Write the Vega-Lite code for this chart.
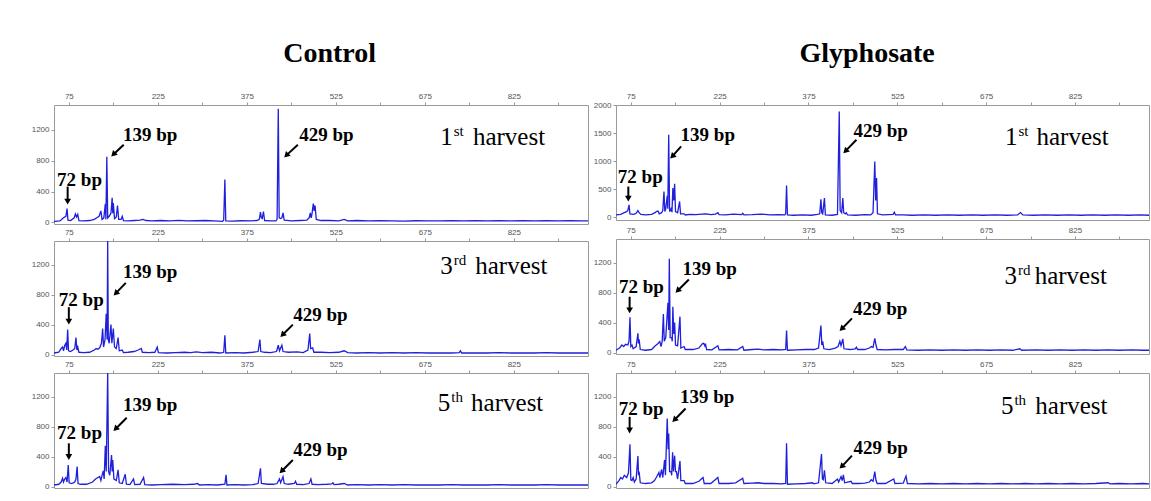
{
"$schema": "https://vega.github.io/schema/vega-lite/v6.json",
"padding": {"left": 30, "top": 39, "right": 0, "bottom": 0},
"background": "white",
"config": {
  "view": {"stroke": "#9a9a9a", "strokeWidth": 1},
  "axis": {"labelFont": "Liberation Sans", "labelFontSize": 8, "labelColor": "#555", "tickColor": "#999", "tickSize": 3, "domain": false, "grid": false, "labelPadding": 2},
  "title": {"font": "Liberation Serif", "fontSize": 28, "fontWeight": "bold", "color": "black", "anchor": "middle"}
},
"datasets": {
"c1": [{"bp":50,"rfu":15},{"bp":60,"rfu":20},{"bp":66,"rfu":60},{"bp":70,"rfu":80},{"bp":72,"rfu":180},{"bp":73.5,"rfu":30},{"bp":78,"rfu":25},{"bp":84,"rfu":60},{"bp":86,"rfu":110},{"bp":88,"rfu":70},{"bp":90,"rfu":105},{"bp":92,"rfu":25},{"bp":100,"rfu":20},{"bp":110,"rfu":25},{"bp":118,"rfu":40},{"bp":122,"rfu":60},{"bp":126,"rfu":80},{"bp":129,"rfu":150},{"bp":131,"rfu":40},{"bp":134,"rfu":60},{"bp":136.5,"rfu":240},{"bp":137.5,"rfu":40},{"bp":139,"rfu":850},{"bp":140.5,"rfu":60},{"bp":143,"rfu":80},{"bp":146,"rfu":120},{"bp":148,"rfu":320},{"bp":149,"rfu":120},{"bp":150,"rfu":250},{"bp":152,"rfu":50},{"bp":155,"rfu":70},{"bp":157,"rfu":220},{"bp":159,"rfu":40},{"bp":163,"rfu":40},{"bp":165,"rfu":80},{"bp":167,"rfu":25},{"bp":175,"rfu":20},{"bp":185,"rfu":25},{"bp":195,"rfu":30},{"bp":200,"rfu":40},{"bp":205,"rfu":25},{"bp":215,"rfu":20},{"bp":230,"rfu":25},{"bp":245,"rfu":20},{"bp":260,"rfu":28},{"bp":275,"rfu":20},{"bp":290,"rfu":22},{"bp":305,"rfu":25},{"bp":320,"rfu":20},{"bp":334,"rfu":15},{"bp":336,"rfu":30},{"bp":338,"rfu":555},{"bp":339.5,"rfu":20},{"bp":350,"rfu":18},{"bp":365,"rfu":22},{"bp":380,"rfu":20},{"bp":392,"rfu":25},{"bp":396,"rfu":40},{"bp":398,"rfu":135},{"bp":399.5,"rfu":60},{"bp":401,"rfu":50},{"bp":403,"rfu":140},{"bp":405,"rfu":25},{"bp":415,"rfu":20},{"bp":424,"rfu":20},{"bp":426,"rfu":40},{"bp":428,"rfu":1470},{"bp":429.5,"rfu":60},{"bp":432,"rfu":50},{"bp":434,"rfu":60},{"bp":436,"rfu":125},{"bp":438,"rfu":30},{"bp":450,"rfu":20},{"bp":465,"rfu":25},{"bp":476,"rfu":30},{"bp":480,"rfu":60},{"bp":482,"rfu":125},{"bp":483.5,"rfu":60},{"bp":485,"rfu":120},{"bp":487,"rfu":245},{"bp":488.5,"rfu":150},{"bp":490,"rfu":220},{"bp":492,"rfu":40},{"bp":500,"rfu":25},{"bp":515,"rfu":25},{"bp":530,"rfu":20},{"bp":539,"rfu":40},{"bp":545,"rfu":20},{"bp":560,"rfu":25},{"bp":580,"rfu":20},{"bp":600,"rfu":22},{"bp":620,"rfu":20},{"bp":640,"rfu":18},{"bp":660,"rfu":22},{"bp":680,"rfu":20},{"bp":700,"rfu":20},{"bp":720,"rfu":22},{"bp":740,"rfu":20},{"bp":760,"rfu":22},{"bp":780,"rfu":20},{"bp":800,"rfu":24},{"bp":820,"rfu":20},{"bp":840,"rfu":22},{"bp":860,"rfu":20},{"bp":880,"rfu":22},{"bp":900,"rfu":20},{"bp":920,"rfu":22},{"bp":940,"rfu":20},{"bp":950,"rfu":20}],
"c3": [{"bp":50,"rfu":20},{"bp":58,"rfu":30},{"bp":62,"rfu":80},{"bp":64.5,"rfu":100},{"bp":66,"rfu":50},{"bp":68,"rfu":120},{"bp":70,"rfu":150},{"bp":71.5,"rfu":60},{"bp":73,"rfu":333},{"bp":74.5,"rfu":50},{"bp":78,"rfu":40},{"bp":82,"rfu":60},{"bp":85,"rfu":80},{"bp":87,"rfu":227},{"bp":88.5,"rfu":60},{"bp":90,"rfu":100},{"bp":92,"rfu":30},{"bp":100,"rfu":25},{"bp":110,"rfu":30},{"bp":118,"rfu":60},{"bp":121,"rfu":80},{"bp":124,"rfu":70},{"bp":127,"rfu":90},{"bp":130,"rfu":150},{"bp":132,"rfu":347},{"bp":133.5,"rfu":100},{"bp":136,"rfu":200},{"bp":138,"rfu":547},{"bp":139.5,"rfu":200},{"bp":140.5,"rfu":1520},{"bp":141.5,"rfu":200},{"bp":143,"rfu":150},{"bp":146,"rfu":400},{"bp":147.5,"rfu":150},{"bp":150,"rfu":347},{"bp":152,"rfu":100},{"bp":155,"rfu":80},{"bp":158,"rfu":227},{"bp":160,"rfu":50},{"bp":165,"rfu":60},{"bp":167,"rfu":25},{"bp":175,"rfu":30},{"bp":185,"rfu":40},{"bp":192,"rfu":60},{"bp":197,"rfu":80},{"bp":199,"rfu":30},{"bp":210,"rfu":25},{"bp":220,"rfu":30},{"bp":224,"rfu":100},{"bp":226,"rfu":25},{"bp":240,"rfu":20},{"bp":255,"rfu":25},{"bp":270,"rfu":30},{"bp":280,"rfu":25},{"bp":290,"rfu":35},{"bp":300,"rfu":25},{"bp":315,"rfu":30},{"bp":330,"rfu":20},{"bp":336,"rfu":30},{"bp":338,"rfu":257},{"bp":339.5,"rfu":20},{"bp":355,"rfu":25},{"bp":370,"rfu":20},{"bp":385,"rfu":30},{"bp":394,"rfu":40},{"bp":397,"rfu":200},{"bp":398.5,"rfu":40},{"bp":405,"rfu":30},{"bp":415,"rfu":25},{"bp":425,"rfu":40},{"bp":428,"rfu":124},{"bp":430,"rfu":50},{"bp":434,"rfu":124},{"bp":436,"rfu":40},{"bp":445,"rfu":30},{"bp":460,"rfu":35},{"bp":470,"rfu":25},{"bp":478,"rfu":60},{"bp":481,"rfu":280},{"bp":482.5,"rfu":80},{"bp":486,"rfu":90},{"bp":488,"rfu":30},{"bp":500,"rfu":30},{"bp":515,"rfu":25},{"bp":530,"rfu":30},{"bp":539,"rfu":50},{"bp":545,"rfu":25},{"bp":560,"rfu":20},{"bp":580,"rfu":25},{"bp":600,"rfu":20},{"bp":620,"rfu":25},{"bp":640,"rfu":20},{"bp":660,"rfu":25},{"bp":680,"rfu":20},{"bp":700,"rfu":22},{"bp":720,"rfu":20},{"bp":733,"rfu":25},{"bp":735,"rfu":50},{"bp":737,"rfu":20},{"bp":760,"rfu":22},{"bp":780,"rfu":20},{"bp":800,"rfu":25},{"bp":820,"rfu":20},{"bp":840,"rfu":22},{"bp":860,"rfu":20},{"bp":880,"rfu":25},{"bp":900,"rfu":20},{"bp":920,"rfu":22},{"bp":940,"rfu":20},{"bp":950,"rfu":20}],
"c5": [{"bp":50,"rfu":20},{"bp":58,"rfu":30},{"bp":62,"rfu":60},{"bp":64.5,"rfu":111},{"bp":66,"rfu":60},{"bp":68,"rfu":100},{"bp":70,"rfu":120},{"bp":72,"rfu":60},{"bp":74,"rfu":289},{"bp":75.5,"rfu":50},{"bp":80,"rfu":40},{"bp":85,"rfu":60},{"bp":87,"rfu":100},{"bp":89,"rfu":267},{"bp":90.5,"rfu":40},{"bp":95,"rfu":30},{"bp":105,"rfu":30},{"bp":115,"rfu":60},{"bp":120,"rfu":100},{"bp":124,"rfu":120},{"bp":127,"rfu":133},{"bp":129,"rfu":80},{"bp":131,"rfu":150},{"bp":133,"rfu":209},{"bp":134.5,"rfu":100},{"bp":136.5,"rfu":547},{"bp":138,"rfu":200},{"bp":140.5,"rfu":1520},{"bp":142,"rfu":200},{"bp":144,"rfu":150},{"bp":147,"rfu":422},{"bp":148,"rfu":200},{"bp":149,"rfu":356},{"bp":151,"rfu":100},{"bp":155,"rfu":80},{"bp":158,"rfu":222},{"bp":160,"rfu":50},{"bp":165,"rfu":40},{"bp":170,"rfu":164},{"bp":172,"rfu":30},{"bp":178,"rfu":25},{"bp":184,"rfu":102},{"bp":186,"rfu":25},{"bp":195,"rfu":30},{"bp":201,"rfu":120},{"bp":203,"rfu":25},{"bp":215,"rfu":20},{"bp":230,"rfu":25},{"bp":250,"rfu":30},{"bp":270,"rfu":25},{"bp":285,"rfu":30},{"bp":292,"rfu":40},{"bp":295,"rfu":20},{"bp":310,"rfu":25},{"bp":325,"rfu":20},{"bp":338,"rfu":30},{"bp":340,"rfu":156},{"bp":341.5,"rfu":20},{"bp":355,"rfu":25},{"bp":370,"rfu":20},{"bp":385,"rfu":25},{"bp":394,"rfu":40},{"bp":398,"rfu":244},{"bp":399.5,"rfu":40},{"bp":410,"rfu":30},{"bp":420,"rfu":30},{"bp":426,"rfu":40},{"bp":430,"rfu":102},{"bp":432,"rfu":50},{"bp":436,"rfu":133},{"bp":438,"rfu":40},{"bp":445,"rfu":30},{"bp":455,"rfu":40},{"bp":457,"rfu":70},{"bp":459,"rfu":30},{"bp":470,"rfu":25},{"bp":480,"rfu":40},{"bp":483,"rfu":102},{"bp":485,"rfu":30},{"bp":495,"rfu":25},{"bp":510,"rfu":30},{"bp":518,"rfu":35},{"bp":520,"rfu":50},{"bp":522,"rfu":25},{"bp":530,"rfu":30},{"bp":539,"rfu":40},{"bp":545,"rfu":20},{"bp":560,"rfu":25},{"bp":580,"rfu":20},{"bp":600,"rfu":25},{"bp":620,"rfu":20},{"bp":640,"rfu":25},{"bp":660,"rfu":20},{"bp":680,"rfu":22},{"bp":700,"rfu":20},{"bp":720,"rfu":25},{"bp":740,"rfu":20},{"bp":760,"rfu":22},{"bp":780,"rfu":20},{"bp":800,"rfu":25},{"bp":820,"rfu":20},{"bp":840,"rfu":22},{"bp":860,"rfu":20},{"bp":880,"rfu":25},{"bp":900,"rfu":20},{"bp":920,"rfu":22},{"bp":940,"rfu":20},{"bp":950,"rfu":20}],
"g1": [{"bp":50,"rfu":40},{"bp":58,"rfu":50},{"bp":64,"rfu":80},{"bp":68,"rfu":100},{"bp":70,"rfu":120},{"bp":72,"rfu":220},{"bp":73.5,"rfu":60},{"bp":80,"rfu":50},{"bp":84,"rfu":70},{"bp":87,"rfu":118},{"bp":89,"rfu":80},{"bp":92,"rfu":50},{"bp":100,"rfu":40},{"bp":110,"rfu":50},{"bp":116,"rfu":80},{"bp":118,"rfu":100},{"bp":121,"rfu":110},{"bp":123,"rfu":60},{"bp":127,"rfu":80},{"bp":129,"rfu":120},{"bp":131,"rfu":457},{"bp":132.5,"rfu":100},{"bp":134,"rfu":150},{"bp":136.5,"rfu":380},{"bp":137.5,"rfu":150},{"bp":139,"rfu":1470},{"bp":140.5,"rfu":100},{"bp":143,"rfu":150},{"bp":144.5,"rfu":90},{"bp":146,"rfu":518},{"bp":147.5,"rfu":300},{"bp":149,"rfu":595},{"bp":150.5,"rfu":100},{"bp":154,"rfu":80},{"bp":157.4,"rfu":280},{"bp":159,"rfu":60},{"bp":165,"rfu":60},{"bp":167,"rfu":40},{"bp":175,"rfu":50},{"bp":185,"rfu":45},{"bp":195,"rfu":55},{"bp":202,"rfu":60},{"bp":210,"rfu":45},{"bp":218,"rfu":55},{"bp":222,"rfu":80},{"bp":224,"rfu":45},{"bp":235,"rfu":40},{"bp":248,"rfu":55},{"bp":262,"rfu":45},{"bp":264,"rfu":70},{"bp":266,"rfu":40},{"bp":280,"rfu":45},{"bp":295,"rfu":55},{"bp":310,"rfu":40},{"bp":325,"rfu":45},{"bp":335,"rfu":40},{"bp":336.5,"rfu":60},{"bp":338,"rfu":565},{"bp":339.5,"rfu":40},{"bp":350,"rfu":35},{"bp":365,"rfu":40},{"bp":380,"rfu":35},{"bp":390,"rfu":50},{"bp":394,"rfu":60},{"bp":396,"rfu":321},{"bp":397.5,"rfu":80},{"bp":399,"rfu":60},{"bp":402,"rfu":340},{"bp":403.5,"rfu":40},{"bp":415,"rfu":35},{"bp":424,"rfu":50},{"bp":427,"rfu":1886},{"bp":428.5,"rfu":120},{"bp":431,"rfu":80},{"bp":433,"rfu":340},{"bp":434.5,"rfu":80},{"bp":437,"rfu":60},{"bp":439,"rfu":80},{"bp":441,"rfu":40},{"bp":455,"rfu":35},{"bp":470,"rfu":45},{"bp":480,"rfu":40},{"bp":484,"rfu":80},{"bp":487,"rfu":993},{"bp":488.5,"rfu":300},{"bp":490,"rfu":697},{"bp":491.5,"rfu":60},{"bp":500,"rfu":40},{"bp":510,"rfu":45},{"bp":518,"rfu":50},{"bp":520,"rfu":90},{"bp":522,"rfu":40},{"bp":535,"rfu":40},{"bp":550,"rfu":35},{"bp":570,"rfu":40},{"bp":590,"rfu":35},{"bp":610,"rfu":40},{"bp":630,"rfu":35},{"bp":650,"rfu":40},{"bp":670,"rfu":35},{"bp":690,"rfu":40},{"bp":710,"rfu":35},{"bp":728,"rfu":40},{"bp":733,"rfu":82},{"bp":737,"rfu":40},{"bp":755,"rfu":35},{"bp":775,"rfu":40},{"bp":795,"rfu":35},{"bp":815,"rfu":40},{"bp":835,"rfu":35},{"bp":855,"rfu":40},{"bp":875,"rfu":35},{"bp":895,"rfu":40},{"bp":915,"rfu":35},{"bp":935,"rfu":40},{"bp":950,"rfu":35}],
"g3": [{"bp":50,"rfu":30},{"bp":56,"rfu":60},{"bp":60,"rfu":100},{"bp":63,"rfu":80},{"bp":66,"rfu":110},{"bp":70,"rfu":100},{"bp":72,"rfu":150},{"bp":73.6,"rfu":471},{"bp":75,"rfu":80},{"bp":77,"rfu":100},{"bp":79,"rfu":50},{"bp":84,"rfu":80},{"bp":87,"rfu":257},{"bp":88,"rfu":120},{"bp":89,"rfu":178},{"bp":91,"rfu":40},{"bp":100,"rfu":30},{"bp":110,"rfu":40},{"bp":115,"rfu":80},{"bp":118,"rfu":100},{"bp":121,"rfu":120},{"bp":124,"rfu":147},{"bp":126,"rfu":80},{"bp":128,"rfu":150},{"bp":130,"rfu":515},{"bp":131.5,"rfu":150},{"bp":134,"rfu":200},{"bp":137.7,"rfu":667},{"bp":139,"rfu":300},{"bp":140,"rfu":1257},{"bp":141.5,"rfu":200},{"bp":144,"rfu":200},{"bp":145,"rfu":150},{"bp":146,"rfu":613},{"bp":147.5,"rfu":250},{"bp":149,"rfu":400},{"bp":150.5,"rfu":100},{"bp":154,"rfu":90},{"bp":158,"rfu":480},{"bp":159.5,"rfu":60},{"bp":165,"rfu":80},{"bp":167,"rfu":40},{"bp":180,"rfu":40},{"bp":190,"rfu":60},{"bp":194,"rfu":100},{"bp":196,"rfu":120},{"bp":198,"rfu":124},{"bp":200,"rfu":90},{"bp":201,"rfu":120},{"bp":203,"rfu":40},{"bp":212,"rfu":35},{"bp":222,"rfu":90},{"bp":224,"rfu":35},{"bp":240,"rfu":40},{"bp":255,"rfu":35},{"bp":264,"rfu":80},{"bp":266,"rfu":30},{"bp":280,"rfu":40},{"bp":290,"rfu":45},{"bp":300,"rfu":35},{"bp":315,"rfu":40},{"bp":330,"rfu":35},{"bp":336.5,"rfu":40},{"bp":338,"rfu":293},{"bp":339.5,"rfu":30},{"bp":355,"rfu":35},{"bp":370,"rfu":40},{"bp":385,"rfu":40},{"bp":392,"rfu":60},{"bp":396,"rfu":360},{"bp":397.5,"rfu":100},{"bp":399,"rfu":150},{"bp":401,"rfu":50},{"bp":410,"rfu":40},{"bp":420,"rfu":60},{"bp":425,"rfu":80},{"bp":428,"rfu":150},{"bp":430,"rfu":90},{"bp":433,"rfu":182},{"bp":435,"rfu":50},{"bp":445,"rfu":40},{"bp":454,"rfu":50},{"bp":456,"rfu":70},{"bp":458,"rfu":40},{"bp":470,"rfu":40},{"bp":478,"rfu":60},{"bp":481,"rfu":80},{"bp":484,"rfu":70},{"bp":487,"rfu":190},{"bp":489,"rfu":100},{"bp":491,"rfu":40},{"bp":505,"rfu":35},{"bp":520,"rfu":40},{"bp":535,"rfu":40},{"bp":538.6,"rfu":80},{"bp":541,"rfu":35},{"bp":560,"rfu":30},{"bp":580,"rfu":35},{"bp":600,"rfu":30},{"bp":620,"rfu":35},{"bp":640,"rfu":30},{"bp":660,"rfu":35},{"bp":680,"rfu":30},{"bp":700,"rfu":35},{"bp":720,"rfu":30},{"bp":732,"rfu":50},{"bp":735,"rfu":30},{"bp":760,"rfu":35},{"bp":780,"rfu":30},{"bp":800,"rfu":35},{"bp":820,"rfu":30},{"bp":840,"rfu":35},{"bp":860,"rfu":30},{"bp":880,"rfu":35},{"bp":900,"rfu":30},{"bp":920,"rfu":35},{"bp":940,"rfu":30},{"bp":950,"rfu":30}],
"g5": [{"bp":50,"rfu":30},{"bp":55,"rfu":80},{"bp":58,"rfu":120},{"bp":61,"rfu":100},{"bp":64,"rfu":150},{"bp":68,"rfu":120},{"bp":71,"rfu":180},{"bp":73.6,"rfu":564},{"bp":75,"rfu":90},{"bp":77,"rfu":80},{"bp":79,"rfu":120},{"bp":81,"rfu":60},{"bp":84,"rfu":100},{"bp":87,"rfu":409},{"bp":88,"rfu":150},{"bp":89,"rfu":200},{"bp":91,"rfu":50},{"bp":100,"rfu":40},{"bp":110,"rfu":50},{"bp":115,"rfu":80},{"bp":118,"rfu":120},{"bp":120,"rfu":150},{"bp":122.5,"rfu":187},{"bp":124,"rfu":120},{"bp":127,"rfu":230},{"bp":129,"rfu":120},{"bp":132,"rfu":356},{"bp":133.5,"rfu":150},{"bp":136.5,"rfu":911},{"bp":138,"rfu":500},{"bp":139,"rfu":711},{"bp":140.5,"rfu":200},{"bp":143,"rfu":200},{"bp":144,"rfu":150},{"bp":145.6,"rfu":458},{"bp":147,"rfu":200},{"bp":149,"rfu":413},{"bp":150.5,"rfu":200},{"bp":152,"rfu":200},{"bp":154,"rfu":100},{"bp":158,"rfu":342},{"bp":159.5,"rfu":80},{"bp":165,"rfu":80},{"bp":167,"rfu":40},{"bp":180,"rfu":40},{"bp":190,"rfu":70},{"bp":197,"rfu":120},{"bp":199,"rfu":40},{"bp":210,"rfu":40},{"bp":222,"rfu":120},{"bp":224,"rfu":40},{"bp":240,"rfu":40},{"bp":252,"rfu":50},{"bp":264,"rfu":110},{"bp":266,"rfu":40},{"bp":280,"rfu":45},{"bp":290,"rfu":50},{"bp":300,"rfu":40},{"bp":315,"rfu":40},{"bp":330,"rfu":35},{"bp":336.5,"rfu":40},{"bp":338,"rfu":578},{"bp":339.5,"rfu":30},{"bp":355,"rfu":35},{"bp":370,"rfu":40},{"bp":382,"rfu":50},{"bp":384,"rfu":35},{"bp":392,"rfu":50},{"bp":397,"rfu":436},{"bp":398.5,"rfu":100},{"bp":400,"rfu":90},{"bp":402,"rfu":218},{"bp":404,"rfu":50},{"bp":415,"rfu":40},{"bp":424,"rfu":100},{"bp":426,"rfu":60},{"bp":430,"rfu":133},{"bp":432,"rfu":80},{"bp":434,"rfu":155},{"bp":436,"rfu":50},{"bp":447,"rfu":70},{"bp":449,"rfu":40},{"bp":460,"rfu":40},{"bp":470,"rfu":45},{"bp":478,"rfu":60},{"bp":481,"rfu":90},{"bp":484,"rfu":70},{"bp":487,"rfu":200},{"bp":489,"rfu":80},{"bp":491,"rfu":40},{"bp":505,"rfu":40},{"bp":519,"rfu":100},{"bp":521,"rfu":40},{"bp":535,"rfu":45},{"bp":539.7,"rfu":140},{"bp":542,"rfu":40},{"bp":560,"rfu":35},{"bp":580,"rfu":40},{"bp":600,"rfu":35},{"bp":620,"rfu":40},{"bp":640,"rfu":35},{"bp":660,"rfu":40},{"bp":680,"rfu":35},{"bp":700,"rfu":40},{"bp":720,"rfu":35},{"bp":740,"rfu":40},{"bp":760,"rfu":35},{"bp":780,"rfu":40},{"bp":800,"rfu":35},{"bp":820,"rfu":40},{"bp":840,"rfu":35},{"bp":860,"rfu":40},{"bp":881,"rfu":50},{"bp":884,"rfu":35},{"bp":900,"rfu":40},{"bp":920,"rfu":35},{"bp":940,"rfu":40},{"bp":950,"rfu":35}],
"arrows": [
{"panel":"c1","dir":"down","bp":73,"rfu":464,"bp2":73,"rfu2":270},
{"panel":"c1","dir":"diag","bp":167.5,"rfu":1006,"bp2":150,"rfu2":880},
{"panel":"c1","dir":"diag","bp":461,"rfu":1006,"bp2":441.5,"rfu2":868},
{"panel":"c3","dir":"down","bp":75,"rfu":634,"bp2":75,"rfu2":440},
{"panel":"c3","dir":"diag","bp":171,"rfu":960,"bp2":154,"rfu2":818},
{"panel":"c3","dir":"diag","bp":452.5,"rfu":400,"bp2":435,"rfu2":262},
{"panel":"c5","dir":"down","bp":75,"rfu":578,"bp2":75,"rfu2":395},
{"panel":"c5","dir":"diag","bp":172.5,"rfu":920,"bp2":153.7,"rfu2":770},
{"panel":"c5","dir":"diag","bp":452.5,"rfu":356,"bp2":433.6,"rfu2":205},
{"panel":"g1","dir":"down","bp":70.8,"rfu":546,"bp2":70.8,"rfu2":330},
{"panel":"g1","dir":"diag","bp":160,"rfu":1261,"bp2":145,"rfu2":1083},
{"panel":"g1","dir":"diag","bp":456,"rfu":1380,"bp2":437.4,"rfu2":1178},
{"panel":"g3","dir":"down","bp":73,"rfu":747,"bp2":73,"rfu2":565},
{"panel":"g3","dir":"diag","bp":173,"rfu":977,"bp2":154,"rfu2":827},
{"panel":"g3","dir":"diag","bp":448.5,"rfu":457,"bp2":431,"rfu2":315},
{"panel":"g5","dir":"down","bp":73,"rfu":933,"bp2":73,"rfu2":750},
{"panel":"g5","dir":"diag","bp":167.5,"rfu":1044,"bp2":148.6,"rfu2":890},
{"panel":"g5","dir":"diag","bp":448.5,"rfu":413,"bp2":431,"rfu2":267}],
"labels": [
{"panel":"c1","bp":93,"rfu":555,"text":"72 bp"},{"panel":"c1","bp":212,"rfu":1135,"text":"139 bp"},{"panel":"c1","bp":509,"rfu":1135,"text":"429 bp"},
{"panel":"c3","bp":96,"rfu":724,"text":"72 bp"},{"panel":"c3","bp":212,"rfu":1101,"text":"139 bp"},{"panel":"c3","bp":499,"rfu":533,"text":"429 bp"},
{"panel":"c5","bp":93,"rfu":711,"text":"72 bp"},{"panel":"c5","bp":212,"rfu":1089,"text":"139 bp"},{"panel":"c5","bp":499,"rfu":489,"text":"429 bp"},
{"panel":"g1","bp":91,"rfu":714,"text":"72 bp"},{"panel":"g1","bp":205,"rfu":1470,"text":"139 bp"},{"panel":"g1","bp":497,"rfu":1541,"text":"429 bp"},
{"panel":"g3","bp":93,"rfu":871,"text":"72 bp"},{"panel":"g3","bp":208,"rfu":1124,"text":"139 bp"},{"panel":"g3","bp":496,"rfu":577,"text":"429 bp"},
{"panel":"g5","bp":92.5,"rfu":1044,"text":"72 bp"},{"panel":"g5","bp":204,"rfu":1200,"text":"139 bp"},{"panel":"g5","bp":497,"rfu":520,"text":"429 bp"}],
"harvest": [
{"panel":"c1","bp":722,"bpw":756,"rfu":1006,"num":"1","sup":"st"},
{"panel":"c3","bp":722,"bpw":760,"rfu":1080,"num":"3","sup":"rd"},
{"panel":"c5","bp":718,"bpw":753,"rfu":1009,"num":"5","sup":"th"},
{"panel":"g1","bp":728,"bpw":760,"rfu":1291,"num":"1","sup":"st"},
{"panel":"g3","bp":727,"bpw":757,"rfu":924,"num":"3","sup":"rd"},
{"panel":"g5","bp":721,"bpw":758,"rfu":977,"num":"5","sup":"th"}]
},
"spacing": 3,
"hconcat": [
{"title": {"text": "Control", "offset": 24, "dx": 20}, "bounds": "flush", "spacing": 17, "vconcat": [
 {"width": 534, "height": 119, "resolve": {"axis": {"x": "independent", "y": "independent"}}, "layer": [
  {"data": {"name": "c1"}, "mark": {"type": "line", "color": "#1f1fdc", "strokeWidth": 1.3, "clip": true}, "encoding": {
    "x": {"field": "bp", "type": "quantitative", "scale": {"domain": [50, 950], "nice": false}, "axis": {"orient": "top", "title": null, "values": [75,150,225,300,375,450,525,600,675,750,825,900], "labelExpr": "datum.value % 150 == 75 ? datum.label : ''"}},
    "y": {"field": "rfu", "type": "quantitative", "scale": {"domain": [-20, 1520], "nice": false}, "axis": {"title": null, "values": [0,400,800,1200], "format": "d", "labelOverlap": false}}}},
  {"data": {"name": "arrows"}, "transform": [{"filter": "datum.panel == 'c1'"}], "mark": {"type": "rule", "color": "black", "strokeWidth": 2}, "encoding": {"x": {"field": "bp", "type": "quantitative", "axis": null}, "y": {"field": "rfu", "type": "quantitative", "axis": null}, "x2": {"field": "bp2"}, "y2": {"field": "rfu2"}}},
  {"data": {"name": "arrows"}, "transform": [{"filter": "datum.panel == 'c1' && datum.dir == 'down'"}], "mark": {"type": "point", "shape": "triangle-down", "filled": true, "color": "black", "opacity": 1, "size": 45}, "encoding": {"x": {"field": "bp2", "type": "quantitative", "axis": null}, "y": {"field": "rfu2", "type": "quantitative", "axis": null}}},
  {"data": {"name": "arrows"}, "transform": [{"filter": "datum.panel == 'c1' && datum.dir == 'diag'"}], "mark": {"type": "point", "shape": "triangle-down", "filled": true, "color": "black", "opacity": 1, "size": 45, "angle": 45}, "encoding": {"x": {"field": "bp2", "type": "quantitative", "axis": null}, "y": {"field": "rfu2", "type": "quantitative", "axis": null}}},
  {"data": {"name": "labels"}, "transform": [{"filter": "datum.panel == 'c1'"}], "mark": {"type": "text", "font": "Liberation Serif", "fontWeight": "bold", "fontSize": 19, "baseline": "middle", "align": "center", "color": "black"}, "encoding": {"x": {"field": "bp", "type": "quantitative", "axis": null}, "y": {"field": "rfu", "type": "quantitative", "axis": null}, "text": {"field": "text"}}},
  {"data": {"name": "harvest"}, "transform": [{"filter": "datum.panel == 'c1'"}], "mark": {"type": "text", "font": "Liberation Serif", "fontSize": 25, "baseline": "alphabetic", "align": "right", "color": "black"}, "encoding": {"x": {"field": "bp", "type": "quantitative", "axis": null}, "y": {"field": "rfu", "type": "quantitative", "axis": null}, "text": {"field": "num"}}},
  {"data": {"name": "harvest"}, "transform": [{"filter": "datum.panel == 'c1'"}], "mark": {"type": "text", "font": "Liberation Serif", "fontSize": 15, "baseline": "alphabetic", "align": "left", "dx": 1, "dy": -9, "color": "black"}, "encoding": {"x": {"field": "bp", "type": "quantitative", "axis": null}, "y": {"field": "rfu", "type": "quantitative", "axis": null}, "text": {"field": "sup"}}},
  {"data": {"name": "harvest"}, "transform": [{"filter": "datum.panel == 'c1'"}], "mark": {"type": "text", "font": "Liberation Serif", "fontSize": 25, "baseline": "alphabetic", "align": "left", "color": "black"}, "encoding": {"x": {"field": "bpw", "type": "quantitative", "axis": null}, "y": {"field": "rfu", "type": "quantitative", "axis": null}, "text": {"value": "harvest"}}}
 ]},
 {"width": 534, "height": 115, "resolve": {"axis": {"x": "independent", "y": "independent"}}, "layer": [
  {"data": {"name": "c3"}, "mark": {"type": "line", "color": "#1f1fdc", "strokeWidth": 1.3, "clip": true}, "encoding": {
    "x": {"field": "bp", "type": "quantitative", "scale": {"domain": [50, 950], "nice": false}, "axis": {"orient": "top", "title": null, "values": [75,150,225,300,375,450,525,600,675,750,825,900], "labelExpr": "datum.value % 150 == 75 ? datum.label : ''"}},
    "y": {"field": "rfu", "type": "quantitative", "scale": {"domain": [-20, 1520], "nice": false}, "axis": {"title": null, "values": [0,400,800,1200], "format": "d", "labelOverlap": false}}}},
  {"data": {"name": "arrows"}, "transform": [{"filter": "datum.panel == 'c3'"}], "mark": {"type": "rule", "color": "black", "strokeWidth": 2}, "encoding": {"x": {"field": "bp", "type": "quantitative", "axis": null}, "y": {"field": "rfu", "type": "quantitative", "axis": null}, "x2": {"field": "bp2"}, "y2": {"field": "rfu2"}}},
  {"data": {"name": "arrows"}, "transform": [{"filter": "datum.panel == 'c3' && datum.dir == 'down'"}], "mark": {"type": "point", "shape": "triangle-down", "filled": true, "color": "black", "opacity": 1, "size": 45}, "encoding": {"x": {"field": "bp2", "type": "quantitative", "axis": null}, "y": {"field": "rfu2", "type": "quantitative", "axis": null}}},
  {"data": {"name": "arrows"}, "transform": [{"filter": "datum.panel == 'c3' && datum.dir == 'diag'"}], "mark": {"type": "point", "shape": "triangle-down", "filled": true, "color": "black", "opacity": 1, "size": 45, "angle": 45}, "encoding": {"x": {"field": "bp2", "type": "quantitative", "axis": null}, "y": {"field": "rfu2", "type": "quantitative", "axis": null}}},
  {"data": {"name": "labels"}, "transform": [{"filter": "datum.panel == 'c3'"}], "mark": {"type": "text", "font": "Liberation Serif", "fontWeight": "bold", "fontSize": 19, "baseline": "middle", "align": "center", "color": "black"}, "encoding": {"x": {"field": "bp", "type": "quantitative", "axis": null}, "y": {"field": "rfu", "type": "quantitative", "axis": null}, "text": {"field": "text"}}},
  {"data": {"name": "harvest"}, "transform": [{"filter": "datum.panel == 'c3'"}], "mark": {"type": "text", "font": "Liberation Serif", "fontSize": 25, "baseline": "alphabetic", "align": "right", "color": "black"}, "encoding": {"x": {"field": "bp", "type": "quantitative", "axis": null}, "y": {"field": "rfu", "type": "quantitative", "axis": null}, "text": {"field": "num"}}},
  {"data": {"name": "harvest"}, "transform": [{"filter": "datum.panel == 'c3'"}], "mark": {"type": "text", "font": "Liberation Serif", "fontSize": 15, "baseline": "alphabetic", "align": "left", "dx": 1, "dy": -9, "color": "black"}, "encoding": {"x": {"field": "bp", "type": "quantitative", "axis": null}, "y": {"field": "rfu", "type": "quantitative", "axis": null}, "text": {"field": "sup"}}},
  {"data": {"name": "harvest"}, "transform": [{"filter": "datum.panel == 'c3'"}], "mark": {"type": "text", "font": "Liberation Serif", "fontSize": 25, "baseline": "alphabetic", "align": "left", "color": "black"}, "encoding": {"x": {"field": "bpw", "type": "quantitative", "axis": null}, "y": {"field": "rfu", "type": "quantitative", "axis": null}, "text": {"value": "harvest"}}}
 ]},
 {"width": 534, "height": 115, "resolve": {"axis": {"x": "independent", "y": "independent"}}, "layer": [
  {"data": {"name": "c5"}, "mark": {"type": "line", "color": "#1f1fdc", "strokeWidth": 1.3, "clip": true}, "encoding": {
    "x": {"field": "bp", "type": "quantitative", "scale": {"domain": [50, 950], "nice": false}, "axis": {"orient": "top", "title": null, "values": [75,150,225,300,375,450,525,600,675,750,825,900], "labelExpr": "datum.value % 150 == 75 ? datum.label : ''"}},
    "y": {"field": "rfu", "type": "quantitative", "scale": {"domain": [-20, 1520], "nice": false}, "axis": {"title": null, "values": [0,400,800,1200], "format": "d", "labelOverlap": false}}}},
  {"data": {"name": "arrows"}, "transform": [{"filter": "datum.panel == 'c5'"}], "mark": {"type": "rule", "color": "black", "strokeWidth": 2}, "encoding": {"x": {"field": "bp", "type": "quantitative", "axis": null}, "y": {"field": "rfu", "type": "quantitative", "axis": null}, "x2": {"field": "bp2"}, "y2": {"field": "rfu2"}}},
  {"data": {"name": "arrows"}, "transform": [{"filter": "datum.panel == 'c5' && datum.dir == 'down'"}], "mark": {"type": "point", "shape": "triangle-down", "filled": true, "color": "black", "opacity": 1, "size": 45}, "encoding": {"x": {"field": "bp2", "type": "quantitative", "axis": null}, "y": {"field": "rfu2", "type": "quantitative", "axis": null}}},
  {"data": {"name": "arrows"}, "transform": [{"filter": "datum.panel == 'c5' && datum.dir == 'diag'"}], "mark": {"type": "point", "shape": "triangle-down", "filled": true, "color": "black", "opacity": 1, "size": 45, "angle": 45}, "encoding": {"x": {"field": "bp2", "type": "quantitative", "axis": null}, "y": {"field": "rfu2", "type": "quantitative", "axis": null}}},
  {"data": {"name": "labels"}, "transform": [{"filter": "datum.panel == 'c5'"}], "mark": {"type": "text", "font": "Liberation Serif", "fontWeight": "bold", "fontSize": 19, "baseline": "middle", "align": "center", "color": "black"}, "encoding": {"x": {"field": "bp", "type": "quantitative", "axis": null}, "y": {"field": "rfu", "type": "quantitative", "axis": null}, "text": {"field": "text"}}},
  {"data": {"name": "harvest"}, "transform": [{"filter": "datum.panel == 'c5'"}], "mark": {"type": "text", "font": "Liberation Serif", "fontSize": 25, "baseline": "alphabetic", "align": "right", "color": "black"}, "encoding": {"x": {"field": "bp", "type": "quantitative", "axis": null}, "y": {"field": "rfu", "type": "quantitative", "axis": null}, "text": {"field": "num"}}},
  {"data": {"name": "harvest"}, "transform": [{"filter": "datum.panel == 'c5'"}], "mark": {"type": "text", "font": "Liberation Serif", "fontSize": 15, "baseline": "alphabetic", "align": "left", "dx": 1, "dy": -9, "color": "black"}, "encoding": {"x": {"field": "bp", "type": "quantitative", "axis": null}, "y": {"field": "rfu", "type": "quantitative", "axis": null}, "text": {"field": "sup"}}},
  {"data": {"name": "harvest"}, "transform": [{"filter": "datum.panel == 'c5'"}], "mark": {"type": "text", "font": "Liberation Serif", "fontSize": 25, "baseline": "alphabetic", "align": "left", "color": "black"}, "encoding": {"x": {"field": "bpw", "type": "quantitative", "axis": null}, "y": {"field": "rfu", "type": "quantitative", "axis": null}, "text": {"value": "harvest"}}}
 ]}
]},
{"title": {"text": "Glyphosate", "offset": 24, "dx": -4}, "bounds": "flush", "spacing": 19, "vconcat": [
 {"width": 533, "height": 115, "resolve": {"axis": {"x": "independent", "y": "independent"}}, "layer": [
  {"data": {"name": "g1"}, "mark": {"type": "line", "color": "#1f1fdc", "strokeWidth": 1.3, "clip": true}, "encoding": {
    "x": {"field": "bp", "type": "quantitative", "scale": {"domain": [50, 950], "nice": false}, "axis": {"orient": "top", "title": null, "values": [75,150,225,300,375,450,525,600,675,750,825,900], "labelExpr": "datum.value % 150 == 75 ? datum.label : ''"}},
    "y": {"field": "rfu", "type": "quantitative", "scale": {"domain": [-50, 2000], "nice": false}, "axis": {"title": null, "values": [0,500,1000,1500,2000], "format": "d", "labelOverlap": false}}}},
  {"data": {"name": "arrows"}, "transform": [{"filter": "datum.panel == 'g1'"}], "mark": {"type": "rule", "color": "black", "strokeWidth": 2}, "encoding": {"x": {"field": "bp", "type": "quantitative", "axis": null}, "y": {"field": "rfu", "type": "quantitative", "axis": null}, "x2": {"field": "bp2"}, "y2": {"field": "rfu2"}}},
  {"data": {"name": "arrows"}, "transform": [{"filter": "datum.panel == 'g1' && datum.dir == 'down'"}], "mark": {"type": "point", "shape": "triangle-down", "filled": true, "color": "black", "opacity": 1, "size": 45}, "encoding": {"x": {"field": "bp2", "type": "quantitative", "axis": null}, "y": {"field": "rfu2", "type": "quantitative", "axis": null}}},
  {"data": {"name": "arrows"}, "transform": [{"filter": "datum.panel == 'g1' && datum.dir == 'diag'"}], "mark": {"type": "point", "shape": "triangle-down", "filled": true, "color": "black", "opacity": 1, "size": 45, "angle": 45}, "encoding": {"x": {"field": "bp2", "type": "quantitative", "axis": null}, "y": {"field": "rfu2", "type": "quantitative", "axis": null}}},
  {"data": {"name": "labels"}, "transform": [{"filter": "datum.panel == 'g1'"}], "mark": {"type": "text", "font": "Liberation Serif", "fontWeight": "bold", "fontSize": 19, "baseline": "middle", "align": "center", "color": "black"}, "encoding": {"x": {"field": "bp", "type": "quantitative", "axis": null}, "y": {"field": "rfu", "type": "quantitative", "axis": null}, "text": {"field": "text"}}},
  {"data": {"name": "harvest"}, "transform": [{"filter": "datum.panel == 'g1'"}], "mark": {"type": "text", "font": "Liberation Serif", "fontSize": 25, "baseline": "alphabetic", "align": "right", "color": "black"}, "encoding": {"x": {"field": "bp", "type": "quantitative", "axis": null}, "y": {"field": "rfu", "type": "quantitative", "axis": null}, "text": {"field": "num"}}},
  {"data": {"name": "harvest"}, "transform": [{"filter": "datum.panel == 'g1'"}], "mark": {"type": "text", "font": "Liberation Serif", "fontSize": 15, "baseline": "alphabetic", "align": "left", "dx": 1, "dy": -9, "color": "black"}, "encoding": {"x": {"field": "bp", "type": "quantitative", "axis": null}, "y": {"field": "rfu", "type": "quantitative", "axis": null}, "text": {"field": "sup"}}},
  {"data": {"name": "harvest"}, "transform": [{"filter": "datum.panel == 'g1'"}], "mark": {"type": "text", "font": "Liberation Serif", "fontSize": 25, "baseline": "alphabetic", "align": "left", "color": "black"}, "encoding": {"x": {"field": "bpw", "type": "quantitative", "axis": null}, "y": {"field": "rfu", "type": "quantitative", "axis": null}, "text": {"value": "harvest"}}}
 ]},
 {"width": 533, "height": 115, "resolve": {"axis": {"x": "independent", "y": "independent"}}, "layer": [
  {"data": {"name": "g3"}, "mark": {"type": "line", "color": "#1f1fdc", "strokeWidth": 1.3, "clip": true}, "encoding": {
    "x": {"field": "bp", "type": "quantitative", "scale": {"domain": [50, 950], "nice": false}, "axis": {"orient": "top", "title": null, "values": [75,150,225,300,375,450,525,600,675,750,825,900], "labelExpr": "datum.value % 150 == 75 ? datum.label : ''"}},
    "y": {"field": "rfu", "type": "quantitative", "scale": {"domain": [-20, 1520], "nice": false}, "axis": {"title": null, "values": [0,400,800,1200], "format": "d", "labelOverlap": false}}}},
  {"data": {"name": "arrows"}, "transform": [{"filter": "datum.panel == 'g3'"}], "mark": {"type": "rule", "color": "black", "strokeWidth": 2}, "encoding": {"x": {"field": "bp", "type": "quantitative", "axis": null}, "y": {"field": "rfu", "type": "quantitative", "axis": null}, "x2": {"field": "bp2"}, "y2": {"field": "rfu2"}}},
  {"data": {"name": "arrows"}, "transform": [{"filter": "datum.panel == 'g3' && datum.dir == 'down'"}], "mark": {"type": "point", "shape": "triangle-down", "filled": true, "color": "black", "opacity": 1, "size": 45}, "encoding": {"x": {"field": "bp2", "type": "quantitative", "axis": null}, "y": {"field": "rfu2", "type": "quantitative", "axis": null}}},
  {"data": {"name": "arrows"}, "transform": [{"filter": "datum.panel == 'g3' && datum.dir == 'diag'"}], "mark": {"type": "point", "shape": "triangle-down", "filled": true, "color": "black", "opacity": 1, "size": 45, "angle": 45}, "encoding": {"x": {"field": "bp2", "type": "quantitative", "axis": null}, "y": {"field": "rfu2", "type": "quantitative", "axis": null}}},
  {"data": {"name": "labels"}, "transform": [{"filter": "datum.panel == 'g3'"}], "mark": {"type": "text", "font": "Liberation Serif", "fontWeight": "bold", "fontSize": 19, "baseline": "middle", "align": "center", "color": "black"}, "encoding": {"x": {"field": "bp", "type": "quantitative", "axis": null}, "y": {"field": "rfu", "type": "quantitative", "axis": null}, "text": {"field": "text"}}},
  {"data": {"name": "harvest"}, "transform": [{"filter": "datum.panel == 'g3'"}], "mark": {"type": "text", "font": "Liberation Serif", "fontSize": 25, "baseline": "alphabetic", "align": "right", "color": "black"}, "encoding": {"x": {"field": "bp", "type": "quantitative", "axis": null}, "y": {"field": "rfu", "type": "quantitative", "axis": null}, "text": {"field": "num"}}},
  {"data": {"name": "harvest"}, "transform": [{"filter": "datum.panel == 'g3'"}], "mark": {"type": "text", "font": "Liberation Serif", "fontSize": 15, "baseline": "alphabetic", "align": "left", "dx": 1, "dy": -9, "color": "black"}, "encoding": {"x": {"field": "bp", "type": "quantitative", "axis": null}, "y": {"field": "rfu", "type": "quantitative", "axis": null}, "text": {"field": "sup"}}},
  {"data": {"name": "harvest"}, "transform": [{"filter": "datum.panel == 'g3'"}], "mark": {"type": "text", "font": "Liberation Serif", "fontSize": 25, "baseline": "alphabetic", "align": "left", "color": "black"}, "encoding": {"x": {"field": "bpw", "type": "quantitative", "axis": null}, "y": {"field": "rfu", "type": "quantitative", "axis": null}, "text": {"value": "harvest"}}}
 ]},
 {"width": 533, "height": 115, "resolve": {"axis": {"x": "independent", "y": "independent"}}, "layer": [
  {"data": {"name": "g5"}, "mark": {"type": "line", "color": "#1f1fdc", "strokeWidth": 1.3, "clip": true}, "encoding": {
    "x": {"field": "bp", "type": "quantitative", "scale": {"domain": [50, 950], "nice": false}, "axis": {"orient": "top", "title": null, "values": [75,150,225,300,375,450,525,600,675,750,825,900], "labelExpr": "datum.value % 150 == 75 ? datum.label : ''"}},
    "y": {"field": "rfu", "type": "quantitative", "scale": {"domain": [-20, 1520], "nice": false}, "axis": {"title": null, "values": [0,400,800,1200], "format": "d", "labelOverlap": false}}}},
  {"data": {"name": "arrows"}, "transform": [{"filter": "datum.panel == 'g5'"}], "mark": {"type": "rule", "color": "black", "strokeWidth": 2}, "encoding": {"x": {"field": "bp", "type": "quantitative", "axis": null}, "y": {"field": "rfu", "type": "quantitative", "axis": null}, "x2": {"field": "bp2"}, "y2": {"field": "rfu2"}}},
  {"data": {"name": "arrows"}, "transform": [{"filter": "datum.panel == 'g5' && datum.dir == 'down'"}], "mark": {"type": "point", "shape": "triangle-down", "filled": true, "color": "black", "opacity": 1, "size": 45}, "encoding": {"x": {"field": "bp2", "type": "quantitative", "axis": null}, "y": {"field": "rfu2", "type": "quantitative", "axis": null}}},
  {"data": {"name": "arrows"}, "transform": [{"filter": "datum.panel == 'g5' && datum.dir == 'diag'"}], "mark": {"type": "point", "shape": "triangle-down", "filled": true, "color": "black", "opacity": 1, "size": 45, "angle": 45}, "encoding": {"x": {"field": "bp2", "type": "quantitative", "axis": null}, "y": {"field": "rfu2", "type": "quantitative", "axis": null}}},
  {"data": {"name": "labels"}, "transform": [{"filter": "datum.panel == 'g5'"}], "mark": {"type": "text", "font": "Liberation Serif", "fontWeight": "bold", "fontSize": 19, "baseline": "middle", "align": "center", "color": "black"}, "encoding": {"x": {"field": "bp", "type": "quantitative", "axis": null}, "y": {"field": "rfu", "type": "quantitative", "axis": null}, "text": {"field": "text"}}},
  {"data": {"name": "harvest"}, "transform": [{"filter": "datum.panel == 'g5'"}], "mark": {"type": "text", "font": "Liberation Serif", "fontSize": 25, "baseline": "alphabetic", "align": "right", "color": "black"}, "encoding": {"x": {"field": "bp", "type": "quantitative", "axis": null}, "y": {"field": "rfu", "type": "quantitative", "axis": null}, "text": {"field": "num"}}},
  {"data": {"name": "harvest"}, "transform": [{"filter": "datum.panel == 'g5'"}], "mark": {"type": "text", "font": "Liberation Serif", "fontSize": 15, "baseline": "alphabetic", "align": "left", "dx": 1, "dy": -9, "color": "black"}, "encoding": {"x": {"field": "bp", "type": "quantitative", "axis": null}, "y": {"field": "rfu", "type": "quantitative", "axis": null}, "text": {"field": "sup"}}},
  {"data": {"name": "harvest"}, "transform": [{"filter": "datum.panel == 'g5'"}], "mark": {"type": "text", "font": "Liberation Serif", "fontSize": 25, "baseline": "alphabetic", "align": "left", "color": "black"}, "encoding": {"x": {"field": "bpw", "type": "quantitative", "axis": null}, "y": {"field": "rfu", "type": "quantitative", "axis": null}, "text": {"value": "harvest"}}}
 ]}
]}
]
}
